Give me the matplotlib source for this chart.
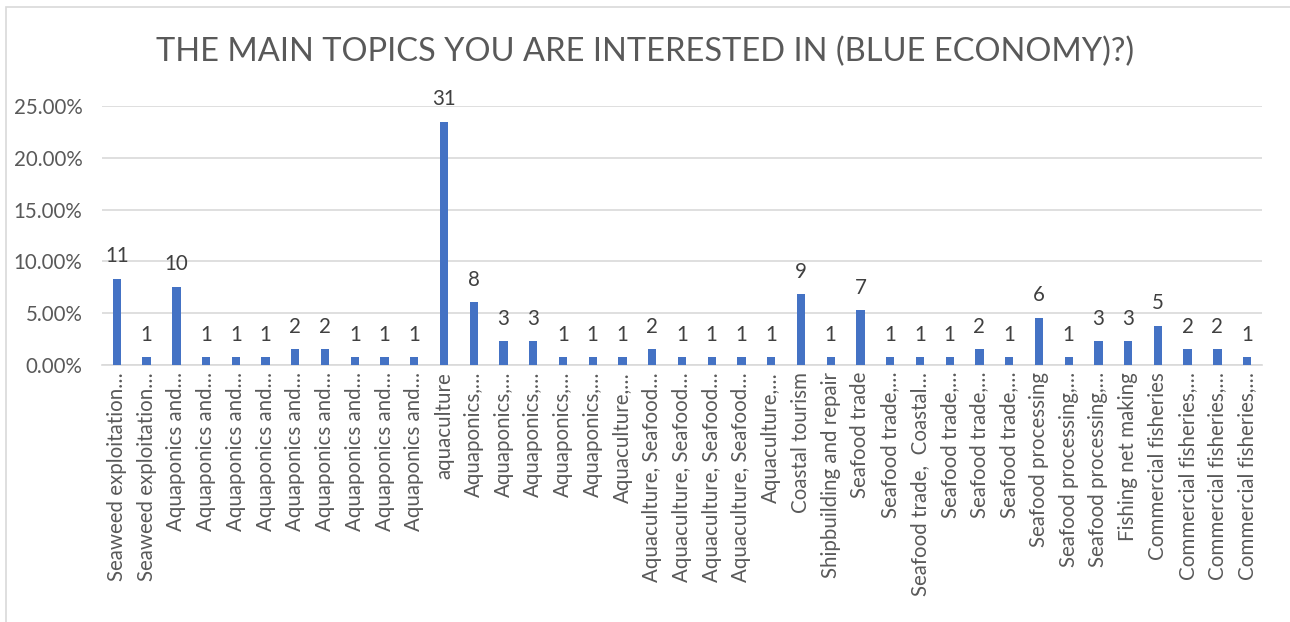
import matplotlib
matplotlib.use("Agg")
import matplotlib.pyplot as plt
from matplotlib.patches import Rectangle
from matplotlib.ticker import FuncFormatter, MultipleLocator

plt.rcParams['font.family'] = ['Lato', 'DejaVu Sans']

title = "THE MAIN TOPICS YOU ARE INTERESTED IN (BLUE ECONOMY)?)"

categories = [
    "Seaweed exploitation…", "Seaweed exploitation…",
    "Aquaponics and…", "Aquaponics and…", "Aquaponics and…", "Aquaponics and…",
    "Aquaponics and…", "Aquaponics and…", "Aquaponics and…", "Aquaponics and…",
    "Aquaponics and…",
    "aquaculture",
    "Aquaponics,…", "Aquaponics,…", "Aquaponics,…", "Aquaponics,…", "Aquaponics,…",
    "Aquaculture,…",
    "Aquaculture, Seafood…", "Aquaculture, Seafood…", "Aquaculture, Seafood…",
    "Aquaculture, Seafood…",
    "Aquaculture,…",
    "Coastal tourism",
    "Shipbuilding and repair",
    "Seafood trade",
    "Seafood trade,…", "Seafood trade,  Coastal…", "Seafood trade,…",
    "Seafood trade,…", "Seafood trade,…",
    "Seafood processing",
    "Seafood processing,…", "Seafood processing,…",
    "Fishing net making",
    "Commercial fisheries",
    "Commercial fisheries,…", "Commercial fisheries,…", "Commercial fisheries,…",
]

counts = [11, 1, 10, 1, 1, 1, 2, 2, 1, 1, 1, 31, 8, 3, 3, 1, 1, 1, 2, 1, 1, 1, 1,
          9, 1, 7, 1, 1, 1, 2, 1, 6, 1, 3, 3, 5, 2, 2, 1]

total = sum(counts)
shares = [c / total for c in counts]

W, H = 1290, 622
fig = plt.figure(figsize=(W / 100, H / 100), dpi=100)
fig.patch.set_facecolor("white")

# chart border (top and left visible)
fig.add_artist(Rectangle((6 / W, -0.05), 1.2, (H - 7) / H + 0.05,
                         transform=fig.transFigure, fill=False,
                         edgecolor="#d9d9d9", linewidth=1.2))

left, right = 102 / W, 1262 / W
bottom, top = (H - 365) / H, (H - 106) / H
ax = fig.add_axes([left, bottom, right - left, top - bottom])

x = list(range(len(categories)))
ax.bar(x, shares, width=0.28, color="#4472C4", zorder=3)

ax.set_xlim(-0.5, len(categories) - 0.5)
ax.set_ylim(0, 0.25)
ax.yaxis.set_major_locator(MultipleLocator(0.05))
ax.yaxis.set_major_formatter(FuncFormatter(lambda v, p: f"{v * 100:.2f}%"))
ax.grid(axis="y", color="#d9d9d9", linewidth=1.2, zorder=0)
ax.set_axisbelow(True)

for s in ["top", "right", "left"]:
    ax.spines[s].set_visible(False)
ax.spines["bottom"].set_color("#d9d9d9")
ax.spines["bottom"].set_linewidth(1.2)

ax.set_xticks(x)
ax.set_xticklabels(categories, rotation=90, fontsize=14.8, color="#595959")
ax.tick_params(axis="x", length=0, pad=5)
ax.tick_params(axis="y", length=0, labelsize=14.8, labelcolor="#595959", pad=14)

for xi, s, c in zip(x, shares, counts):
    ax.annotate(str(c), (xi, s), xytext=(0, 9), textcoords="offset points",
                ha="center", va="bottom", fontsize=14.8, color="#404040",
                clip_on=False)

fig.text(0.5, (H - 52) / H, title, ha="center", va="center",
         fontsize=23.5, color="#595959")

fig.savefig("out.png", dpi=100, facecolor="white")
